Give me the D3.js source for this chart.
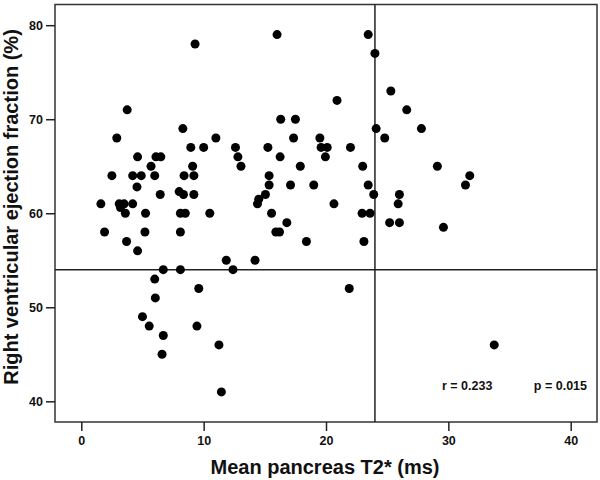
<!DOCTYPE html>
<html>
<head>
<meta charset="utf-8">
<script src="https://cdn.jsdelivr.net/npm/d3@7"></script>
<style>
  body { margin: 0; background: #fff; }
  text { font-family: "Liberation Sans", Arial, sans-serif; font-weight: bold; }
</style>
</head>
<body>
<div id="container"></div>
<script>
var scene_width = 600, scene_height = 480

// mean pancreas T2* (ms)
var t2star = [
  9.3, 3.75, 2.9, 8.3, 8.95, 4.6, 6.1, 6.5, 5.7, 9.1,
  2.5, 4.2, 4.9, 6.0, 8.4, 9.2, 4.55, 6.45, 8.0, 8.35,
  9.2, 1.6, 3.1, 3.5, 3.2, 4.2, 3.6, 5.25, 8.1, 8.5,
  1.9, 5.2, 8.1, 3.7, 4.6, 6.7, 8.1, 6.0, 6.05, 9.6,
  5.0, 5.55, 6.7, 6.6, 9.45, 16.0, 23.45, 24.0, 25.3, 20.9,
  16.3, 17.5, 24.1, 11.0, 17.35, 19.5, 24.8, 10.0, 12.6, 15.25,
  19.6, 20.1, 22.0, 12.8, 16.25, 19.95, 13.05, 17.9, 23.0, 15.35,
  15.35, 17.1, 19.0, 23.45, 15.05, 14.5, 14.4, 23.9, 20.65, 26.0,
  25.9, 10.5, 15.55, 22.95, 23.6, 16.8, 25.2, 26.0, 15.9, 16.2,
  18.4, 23.1, 11.85, 14.2, 12.4, 21.9, 11.25, 11.45, 26.6, 27.8,
  29.1, 31.75, 31.4, 29.6, 33.75
]
// right ventricular ejection fraction (%)
var rvef = [
  78, 71, 68, 69, 67, 66, 66, 66, 65, 65,
  64, 64, 64, 64, 64, 64, 62.8, 62, 62.3, 62,
  62, 61, 61, 61, 60.6, 61, 60, 60, 60, 60,
  58, 58, 58, 57, 56, 54, 54, 53, 51, 52,
  49, 48, 47, 45, 48, 79, 79, 77, 73, 72,
  70, 70, 69, 68, 68, 68, 68, 67, 67, 67,
  67, 67, 67, 66, 66, 66, 65, 65, 65, 64,
  63, 63, 63, 63, 62, 61.5, 61, 62, 61, 62,
  61, 60, 60, 60, 60, 59, 59, 59, 58, 58,
  57, 57, 55, 55, 54, 52, 46, 41, 71, 69,
  65, 64, 63, 58.5, 46
]
var xTicks = [0, 10, 20, 30, 40]
var yTicks = [40, 50, 60, 70, 80]
var refX = 24, refY = 54
var rText = 'r = 0.233', pText = 'p = 0.015'

var plotL = 55, plotR = 597, plotT = 4.5, plotB = 422

svg = d3.select('#container').append('svg')
  .attr('width', scene_width)
  .attr('height', scene_height)

var x = d3.scaleLinear().domain([-2.15, 42.15]).range([plotL, plotR])
var y = d3.scaleLinear().domain([37.8, 82.2]).range([plotB, plotT])

// frame
svg.append('rect')
  .attr('x', plotL).attr('y', plotT)
  .attr('width', plotR - plotL).attr('height', plotB - plotT)
  .attr('fill', 'none').attr('stroke', '#333').attr('stroke-width', 1.5)

var xAxis = svg.append('g')
  .attr('transform', 'translate(0,' + plotB + ')')
  .call(d3.axisBottom(x).tickValues(xTicks).tickSize(9).tickSizeOuter(0).tickPadding(5))
var yAxis = svg.append('g')
  .attr('transform', 'translate(' + plotL + ',0)')
  .call(d3.axisLeft(y).tickValues(yTicks).tickSize(9).tickSizeOuter(0).tickPadding(3))

svg.selectAll('.domain').remove()
svg.selectAll('.tick line').attr('stroke', '#222').attr('stroke-width', 1.5)
svg.selectAll('.tick text')
  .attr('fill', '#111')
  .style('font-size', '12.5px')
  .style('font-family', '"Liberation Sans", Arial, sans-serif')
  .style('font-weight', 'bold')

// reference lines
svg.append('line')
  .attr('x1', plotL).attr('x2', plotR)
  .attr('y1', y(refY)).attr('y2', y(refY))
  .attr('stroke', '#222').attr('stroke-width', 1.5)
svg.append('line')
  .attr('x1', x(refX)).attr('x2', x(refX))
  .attr('y1', plotT).attr('y2', plotB)
  .attr('stroke', '#222').attr('stroke-width', 1.5)

// points
svg.selectAll('circle.pt')
  .data(t2star)
  .enter().append('circle')
  .attr('class', 'pt')
  .attr('cx', d => x(d))
  .attr('cy', (d, i) => y(rvef[i]))
  .attr('r', 4.5)
  .attr('fill', '#000')

// stats
svg.append('text')
  .attr('x', 442).attr('y', 390)
  .style('font-size', '12.5px').attr('fill', '#111')
  .text(rText)
svg.append('text')
  .attr('x', 587).attr('y', 390)
  .attr('text-anchor', 'end')
  .style('font-size', '12.5px').attr('fill', '#111')
  .text(pText)

// axis titles
svg.append('text')
  .attr('x', 325).attr('y', 474)
  .attr('text-anchor', 'middle')
  .style('font-size', '20px').attr('fill', '#111')
  .text('Mean pancreas T2* (ms)')
svg.append('text')
  .attr('transform', 'translate(18,207) rotate(-90)')
  .attr('text-anchor', 'middle')
  .style('font-size', '20px').attr('fill', '#111')
  .text('Right ventricular ejection fraction (%)')
</script>
</body>
</html>
